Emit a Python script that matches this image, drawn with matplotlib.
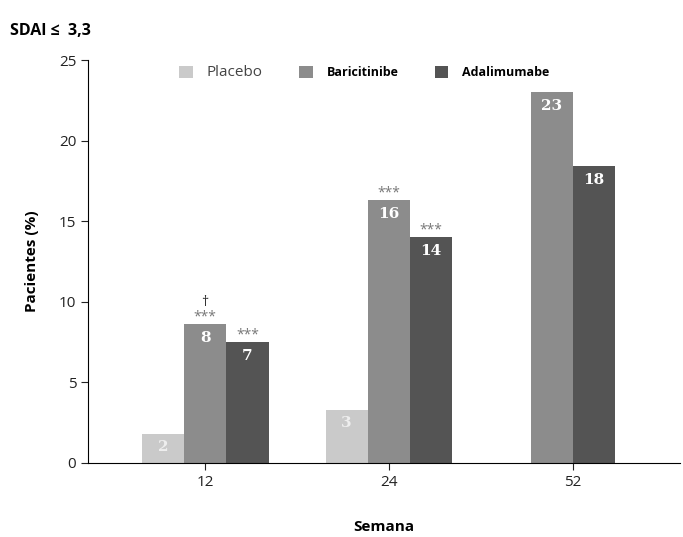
import numpy as np
import matplotlib.pyplot as plt

plt.rcParams['font.family'] = ['Open Sans', 'DejaVu Sans']

semanas = ['12', '24', '52']
placebo = [1.8, 3.3, None]
baricitinibe = [8.6, 16.3, 23.0]
adalimumabe = [7.5, 14.0, 18.4]
etiq_placebo = ['2', '3', '']
etiq_bari = ['8', '16', '23']
etiq_ada = ['7', '14', '18']
sig_bari = ['***', '***', '']
sig_ada = ['***', '***', '']
daga_bari = ['†', '', '']

colores = ['#cacaca', '#8c8c8c', '#545454']
nombres = ['Placebo', 'Baricitinibe', 'Adalimumabe']
series = [placebo, baricitinibe, adalimumabe]
etiquetas = [etiq_placebo, etiq_bari, etiq_ada]

fig, ax = plt.subplots(figsize=(6.83, 5.37), dpi=100)
fig.subplots_adjust(left=0.129, right=0.995, bottom=0.138, top=0.888)

w = 0.23
x = np.arange(len(semanas))
for i in range(len(semanas)):
    activos = [k for k in range(3) if series[k][i] is not None]
    n = len(activos)
    for j, k in enumerate(activos):
        pos = x[i] + (j - (n - 1) / 2) * w
        if n == 3:
            pos = x[i] + (j - 1) * w
        val = series[k][i]
        ax.bar(pos, val, width=w, color=colores[k], edgecolor='none',
               label=nombres[k] if i == 0 else None)
        col = '#eeeeee' if k == 0 else 'white'
        ax.text(pos, val - 0.4, etiquetas[k][i], ha='center', va='top',
                color=col, fontsize=11, fontweight='bold', family='DejaVu Serif')
        if k == 1 and sig_bari[i]:
            ax.text(pos, val + 0.0, sig_bari[i], ha='center', va='bottom',
                    fontsize=10, color='#777777')
        if k == 2 and sig_ada[i]:
            ax.text(pos, val + 0.0, sig_ada[i], ha='center', va='bottom',
                    fontsize=10, color='#777777')
        if k == 1 and daga_bari[i]:
            ax.text(pos, val + 0.9, daga_bari[i], ha='center', va='bottom',
                    fontsize=10, color='#333333')

ax.set_xlim(-0.636, 2.58)
ax.set_ylim(0, 25)
ax.set_yticks([0, 5, 10, 15, 20, 25])
ax.set_xticks(x)
ax.set_xticklabels(semanas)
ax.tick_params(labelsize=11, colors='#222222', length=5)
ax.spines['top'].set_visible(False)
ax.spines['right'].set_visible(False)
ax.set_ylabel('Pacientes (%)', fontsize=11, fontweight='bold', labelpad=14)
ax.set_xlabel('Semana', fontsize=11, fontweight='bold', labelpad=22)

leg = ax.legend(loc='upper left', bbox_to_anchor=(0.135, 1.015), ncol=3, frameon=False,
                handlelength=1.1, handleheight=1.1, fontsize=9, columnspacing=2.9,
                handletextpad=1.1)
textos = leg.get_texts()
textos[0].set_fontsize(11)
textos[0].set_color('#444444')
textos[1].set_fontweight('bold')
textos[2].set_fontweight('bold')

fig.text(0.015, 0.935, 'SDAI ≤  3,3', fontsize=11.5, fontweight='bold')

plt.savefig('out.png', dpi=100)
